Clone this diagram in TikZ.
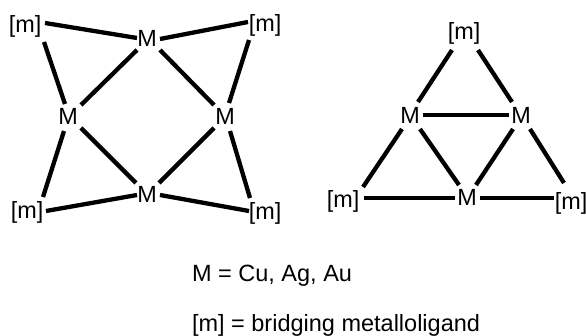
\documentclass[tikz,border=0pt]{standalone}
\usepackage{fontspec}
\setmainfont{Liberation Sans}
\tikzset{
  lab/.style={anchor=base,inner sep=0pt,outer sep=0pt,font=\fontsize{23.4}{28}\selectfont},
  caption/.style={anchor=base west,inner sep=0pt,outer sep=0pt,font=\fontsize{23.5}{28}\selectfont},
  bond/.style={line width=4.3pt,black}
}
\newcommand{\bond}[6]{\draw[bond] ([shift={(#2,#3)}]#1.base) -- ([shift={(#5,#6)}]#4.base);}
\begin{document}
\begin{tikzpicture}[x=1pt,y=-1pt]
\useasboundingbox (0,0) rectangle (586,336);
\clip (0,0) rectangle (586,336);
\node[lab] (tlm) at (25,33) {[m]};
\node[lab] (t) at (147,47) {M};
\node[lab] (l) at (68,125) {M};
\node[lab] (r) at (225,125) {M};
\node[lab] (b) at (147,203) {M};
\node[lab] (trm) at (265,32) {[m]};
\node[lab] (blm) at (27,219) {[m]};
\node[lab] (brm) at (265,220) {[m]};
\bond{tlm}{20}{-10}{t}{-10}{-9}
\bond{tlm}{19}{9}{l}{-3}{-21}
\bond{t}{13}{-8}{trm}{-17}{-10}
\bond{trm}{-16}{8}{r}{4}{-22}
\bond{t}{-10}{3}{l}{13}{-20}
\bond{t}{13}{3}{r}{-11}{-20}
\bond{l}{13}{3}{b}{-11}{-20}
\bond{r}{-11}{3}{b}{12}{-20}
\bond{l}{-4}{6}{blm}{16}{-22}
\bond{blm}{19}{-8}{b}{-10}{-8}
\bond{b}{13}{-8}{brm}{-16}{-9}
\bond{r}{5}{6}{brm}{-15}{-22}
\node[lab] (top) at (464,40) {[m]};
\node[lab] (lm) at (410,124) {M};
\node[lab] (rm) at (521,124) {M};
\node[lab] (bm) at (467,206) {M};
\node[lab] (lf) at (343,208) {[m]};
\node[lab] (rf) at (571,210) {[m]};
\bond{top}{-12}{10}{lm}{8}{-22}
\bond{top}{14}{10}{rm}{-9}{-22}
\bond{lm}{13}{-9}{rm}{-12}{-9}
\bond{lm}{-8}{5}{lf}{20}{-21}
\bond{lm}{10}{5}{bm}{-8}{-21}
\bond{rm}{-8}{5}{bm}{9}{-21}
\bond{rm}{9}{5}{rf}{-7}{-27}
\bond{lf}{21}{-10}{bm}{-12}{-8}
\bond{bm}{13}{-8}{rf}{-17}{-12}
\node[caption] (c1) at (192,282) {M = Cu, Ag, Au};
\node[caption] (c2) at (192,331) {[m] = bridging metalloligand};
\end{tikzpicture}
\end{document}
